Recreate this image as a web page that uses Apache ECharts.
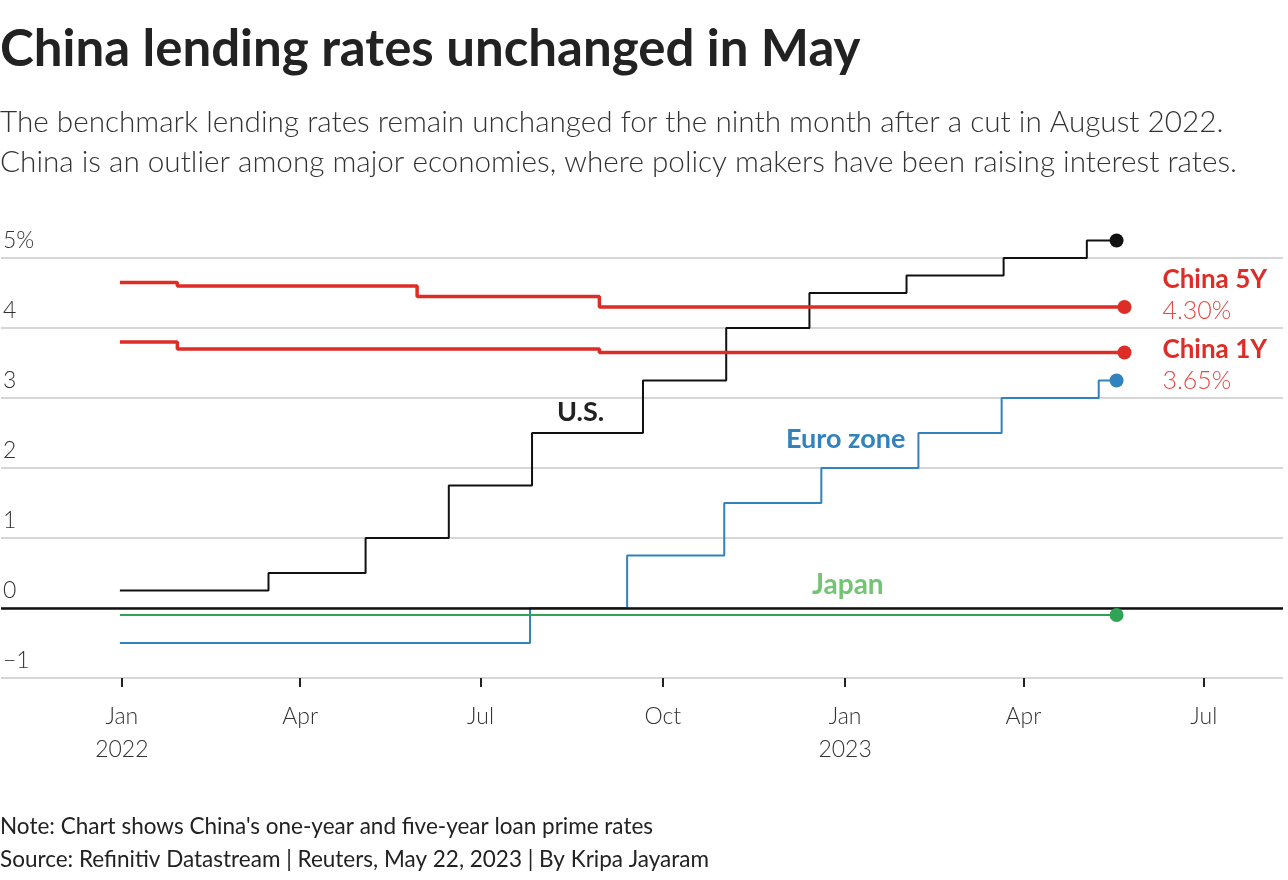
<!DOCTYPE html>
<html>
<head>
<meta charset="utf-8">
<script src="https://cdn.jsdelivr.net/npm/echarts@6/dist/echarts.min.js"></script>
<style>
html,body{margin:0;padding:0;background:#fff;}
#chart{width:1288px;height:880px;}
</style>
</head>
<body>
<div id="chart"></div>
<script>
// ---- Data ----
const usDates = ['2021-12-31','2022-03-16','2022-05-04','2022-06-15','2022-07-27','2022-09-21','2022-11-02','2022-12-14','2023-02-01','2023-03-22','2023-05-03','2023-05-18'];
const usRates = [0.25,0.5,1.0,1.75,2.5,3.25,4.0,4.5,4.75,5.0,5.25,5.25];

const china5Dates = ['2021-12-31','2022-01-29','2022-05-30','2022-08-30','2023-05-22'];
const china5Rates = [4.65,4.60,4.45,4.30,4.30];

const china1Dates = ['2021-12-31','2022-01-29','2022-08-30','2023-05-22'];
const china1Rates = [3.80,3.70,3.65,3.65];

const euroDates = ['2021-12-31','2022-07-26','2022-09-13','2022-11-01','2022-12-20','2023-02-07','2023-03-21','2023-05-09','2023-05-18'];
const euroRates = [-0.5,0,0.75,1.5,2.0,2.5,3.0,3.25,3.25];

const japanDates = ['2021-12-31','2023-05-18'];
const japanRates = [-0.1,-0.1];

const xTickDates = ['2022-01-01','2022-04-01','2022-07-01','2022-10-01','2023-01-01','2023-04-01','2023-07-01'];
const xTickLabels = ['Jan\n2022','Apr','Jul','Oct','Jan\n2023','Apr','Jul'];
const xRange = ['2021-11-01','2023-08-10'];

const yTickValues = [-1,0,1,2,3,4,5];
const yTickLabels = ['\u22121','0','1','2','3','4','5%'];

// ---- Styling ----
const FONT = "Lato, 'Noto Sans', sans-serif";
const RED = '#de2d26';
const BLACK = '#111111';
const BLUE = '#3182bd';
const GREEN = '#31a354';

function ts(d) { const p = d.split('-').map(Number); return Date.UTC(p[0], p[1] - 1, p[2]); }
function zip(dates, vals) { return dates.map((d, i) => [ts(d), vals[i]]); }

function stepSeries(name, dates, vals, color, width, z, extra) {
  const last = dates.length - 1;
  return Object.assign({
    name: name,
    type: 'line',
    step: 'end',
    data: zip(dates, vals),
    symbol: 'circle',
    symbolSize: (v, p) => p.dataIndex === last ? 14 : 0,
    showSymbol: true,
    itemStyle: { color: color },
    lineStyle: { color: color, width: width },
    silent: true,
    z: z,
    animation: false
  }, extra || {});
}

function chinaLabel(dy) {
  return {
    show: true,
    distance: 0,
    offset: [38, dy],
    align: 'left',
    verticalAlign: 'middle',
    formatter: p => '{a|' + p.seriesName + '}\n{b|' + p.value[1].toFixed(2) + '%}',
    rich: {
      a: { fontFamily: FONT, fontWeight: 'bold', fontSize: 26, color: RED, lineHeight: 31 },
      b: { fontFamily: FONT, fontWeight: 300, fontSize: 25, color: '#e34a42', lineHeight: 31 }
    }
  };
}

const tickTimes = xTickDates.map(ts);

const chart = echarts.init(document.getElementById('chart'), null, { renderer: 'canvas' });

const option = {
  backgroundColor: '#ffffff',
  animation: false,
  grid: { left: 0, right: 5, top: 223, bottom: 202, containLabel: false },
  xAxis: {
    type: 'value',
    min: ts(xRange[0]),
    max: ts(xRange[1]),
    axisLine: { show: false, onZero: false },
    splitLine: { show: false },
    axisTick: {
      show: true,
      customValues: tickTimes,
      length: 9,
      lineStyle: { color: '#222', width: 2 }
    },
    axisLabel: {
      show: true,
      customValues: tickTimes,
      margin: 22,
      fontFamily: FONT,
      fontWeight: 300,
      fontSize: 23,
      lineHeight: 33,
      color: '#333',
      verticalAlign: 'top',
      formatter: function (value) {
        let best = 0, bd = Infinity;
        tickTimes.forEach((t, i) => { const d = Math.abs(t - value); if (d < bd) { bd = d; best = i; } });
        return xTickLabels[best];
      }
    }
  },
  yAxis: {
    type: 'value',
    min: -1,
    max: 5.5,
    interval: 1,
    axisLine: { show: false },
    axisTick: { show: false },
    splitLine: { show: true, showMaxLine: false, lineStyle: { color: '#c8c8c8', width: 1.5 } },
    axisLabel: {
      inside: true,
      margin: 2,
      showMaxLabel: false,
      fontFamily: FONT,
      fontWeight: 300,
      fontSize: 23,
      color: '#333',
      verticalAlign: 'bottom',
      padding: [0, 0, 6, 0],
      formatter: function (v) {
        const i = yTickValues.indexOf(Math.round(v * 1000) / 1000);
        return i >= 0 ? yTickLabels[i] : '';
      }
    }
  },
  series: [
    stepSeries('Euro zone', euroDates, euroRates, BLUE, 2, 2),
    stepSeries('Japan', japanDates, japanRates, GREEN, 2.2, 5, {
      markLine: {
        silent: true,
        symbol: 'none',
        label: { show: false },
        lineStyle: { color: '#111', width: 2.5, type: 'solid' },
        data: [{ yAxis: 0 }],
        animation: false
      }
    }),
    stepSeries('U.S.', usDates, usRates, BLACK, 2, 3),
    stepSeries('China 1Y', china1Dates, china1Rates, RED, 3.5, 4, { endLabel: chinaLabel(13), labelLayout: { hideOverlap: false } }),
    stepSeries('China 5Y', china5Dates, china5Rates, RED, 3.5, 4, { endLabel: chinaLabel(-12), labelLayout: { hideOverlap: false } })
  ],
  graphic: [
    { type: 'text', x: 0, y: 50, style: { text: 'China lending rates unchanged in May', fontFamily: FONT, fontWeight: 'bold', fontSize: 51, fill: '#222', verticalAlign: 'middle' } },
    { type: 'text', x: 0, y: 122, style: { text: 'The benchmark lending rates remain unchanged for the ninth month after a cut in August 2022.', fontFamily: FONT, fontWeight: 300, fontSize: 29.7, fill: '#333', verticalAlign: 'middle' } },
    { type: 'text', x: 0, y: 162, style: { text: 'China is an outlier among major economies, where policy makers have been raising interest rates.', fontFamily: FONT, fontWeight: 300, fontSize: 29.7, fill: '#333', verticalAlign: 'middle' } },
    { type: 'text', x: 557, y: 412, style: { text: 'U.S.', fontFamily: FONT, fontWeight: 'bold', fontSize: 27, fill: '#222', verticalAlign: 'middle' } },
    { type: 'text', x: 786, y: 439, style: { text: 'Euro zone', fontFamily: FONT, fontWeight: 'bold', fontSize: 27, fill: BLUE, verticalAlign: 'middle' } },
    { type: 'text', x: 812, y: 585, style: { text: 'Japan', fontFamily: FONT, fontWeight: 'bold', fontSize: 28, fill: '#74c476', verticalAlign: 'middle' } },
    { type: 'text', x: 0, y: 827, style: { text: "Note: Chart shows China's one-year and five-year loan prime rates", fontFamily: FONT, fontWeight: 'normal', fontSize: 22.5, fill: '#222', verticalAlign: 'middle' } },
    { type: 'text', x: 0, y: 860, style: { text: 'Source: Refinitiv Datastream | Reuters, May 22, 2023 | By Kripa Jayaram', fontFamily: FONT, fontWeight: 'normal', fontSize: 22.5, fill: '#222', verticalAlign: 'middle' } }
  ]
};

chart.setOption(option);
</script>
</body>
</html>
